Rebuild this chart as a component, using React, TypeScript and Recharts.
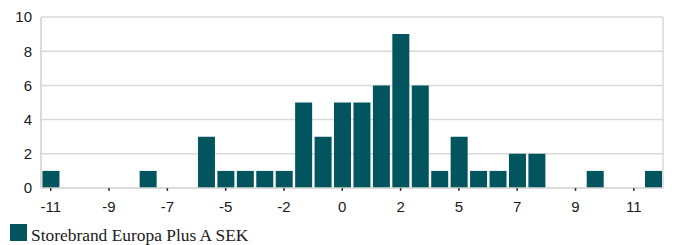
import { BarChart, Bar, XAxis, YAxis, CartesianGrid, Legend } from 'recharts'

// histogram bins (monthly return, %), only every third one is labelled on the axis
const BINS = [
  '-11', '-10.3', '-9.5', '-9', '-8.1', '-7.4', '-7', '-5.9', '-5.2', '-5', '-3.7',
  '-2.9', '-2', '-1.4', '-0.7', '0', '0.8', '1.5', '2', '3', '3.7', '5', '5.2',
  '6', '7', '7.4', '8.2', '9', '9.7', '10.4', '11', '12',
]

// number of months in each bin
const COUNTS = [
  1, 0, 0, 0, 0, 1, 0, 0, 3, 1, 1, 1, 1, 5, 3, 5, 5, 6, 9, 6, 1, 3, 1, 1, 2, 2,
  0, 0, 1, 0, 0, 1,
]

const Y_TICKS = [0, 2, 4, 6, 8, 10]
const SERIES_NAME = 'Storebrand Europa Plus A SEK'

const BAR_COLOR = '#02545f'
const GRID_COLOR = '#d9d9d9'
const AXIS_FONT = { fontFamily: '"Liberation Sans", Arial, sans-serif', fontSize: 15, fill: '#1a1a1a' }

const data = BINS.map((bin, i) => ({ bin, count: COUNTS[i] }))

function LegendBox() {
  return (
    <div style={{ display: 'flex', alignItems: 'baseline', paddingLeft: 10, paddingTop: 5 }}>
      <span style={{ width: 17, height: 17, background: BAR_COLOR, display: 'inline-block', flexShrink: 0 }} />
      <span
        style={{
          marginLeft: 4,
          fontFamily: '"Liberation Serif", "Times New Roman", serif',
          fontSize: 17.4,
          color: '#1a1a1a',
        }}
      >
        {SERIES_NAME}
      </span>
    </div>
  )
}

export default function App() {
  return (
    <div style={{ position: 'absolute', left: 0, top: 0 }}>
      <BarChart
        width={678}
        height={245}
        data={data}
        margin={{ top: 17, right: 15, left: 0, bottom: 0 }}
        barCategoryGap="7.5%"
      >
        <CartesianGrid
          stroke={GRID_COLOR}
          strokeWidth={1.5}
          verticalCoordinatesGenerator={({ offset }: any) => [
            offset.left,
            offset.left + offset.width,
          ]}
        />
        <XAxis
          dataKey="bin"
          interval={2}
          height={31}
          tick={AXIS_FONT}
          tickSize={3}
          tickMargin={10}
          axisLine={{ stroke: GRID_COLOR, strokeWidth: 1.5 }}
          tickLine={{ stroke: '#333', strokeWidth: 1.5 }}
        />
        <YAxis
          width={41}
          domain={[0, 10]}
          ticks={Y_TICKS}
          tick={AXIS_FONT}
          tickLine={false}
          tickSize={3}
          tickMargin={6}
          axisLine={{ stroke: GRID_COLOR, strokeWidth: 1.5 }}
        />
        <Legend
          verticalAlign="bottom"
          align="left"
          height={26}
          content={() => <LegendBox />}
        />
        <Bar dataKey="count" name={SERIES_NAME} fill={BAR_COLOR} isAnimationActive={false} />
      </BarChart>
    </div>
  )
}
